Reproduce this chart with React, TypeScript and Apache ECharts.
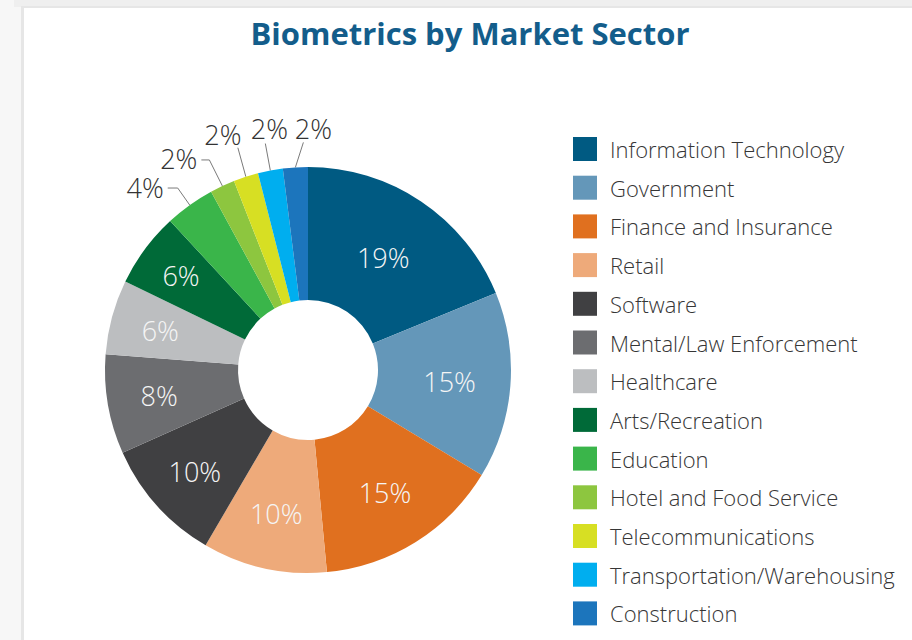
import { useEffect, useRef } from 'react';
import * as echarts from 'echarts';

// Market sectors and their share of biometrics use (percent)
const sectors = [
  'Information Technology',
  'Government',
  'Finance and Insurance',
  'Retail',
  'Software',
  'Mental/Law Enforcement',
  'Healthcare',
  'Arts/Recreation',
  'Education',
  'Hotel and Food Service',
  'Telecommunications',
  'Transportation/Warehousing',
  'Construction',
];
const shares = [19, 15, 15, 10, 10, 8, 6, 6, 4, 2, 2, 2, 2];
const sectorColors = [
  '#005a82', '#6497b9', '#e0701f', '#eeaa7a', '#404042', '#6c6d70', '#bcbec0',
  '#006a38', '#3ab54a', '#8dc63f', '#d7df23', '#00aeef', '#1c75bc',
];

// Slices from this index on are too thin for an inside label; they get a callout.
const calloutFrom = 8;

// Donut geometry
const CX = 308;
const CY = 370;
const R_INNER = 70;
const R_OUTER = 203;

// Distance of each inside label from the centre
const insideLabelRadius = [135, 142, 145, 147, 152, 151, 153, 158];

type Callout = {
  bend: [number, number];
  tail: [number, number] | null;
  at: [number, number];
  align: 'left' | 'center' | 'right';
  v: 'top' | 'middle' | 'bottom';
};

// Callout line shapes for the thin slices (offsets from the slice edge)
const callouts: Callout[] = [
  { bend: [-12, -17], tail: [-10, 0], at: [-4, -1], align: 'right', v: 'middle' },
  { bend: [-13, -26], tail: [-8, 0], at: [-4, -1], align: 'right', v: 'middle' },
  { bend: [-8, -29], tail: null, at: [-15, 0], align: 'center', v: 'bottom' },
  { bend: [-5, -27], tail: null, at: [4, -2], align: 'center', v: 'bottom' },
  { bend: [8, -25], tail: null, at: [10, 0], align: 'center', v: 'bottom' },
];

const FONT = '"Open Sans", Lato, sans-serif';

export default function App() {
  const ref = useRef<HTMLDivElement>(null);

  useEffect(() => {
    if (!ref.current) return;
    const chart = echarts.init(ref.current, null, { renderer: 'svg' });

    const data = sectors.map((name, i) => {
      const outside = i >= calloutFrom;
      return {
        name,
        value: shares[i],
        itemStyle: { color: sectorColors[i] },
        label: outside
          ? { position: 'outside', color: '#333333' }
          : { position: 'inside', color: '#f5f5f5' },
        labelLine: { show: outside },
      };
    });

    chart.setOption({
      animation: false,
      backgroundColor: '#ffffff',
      graphic: [
        { type: 'rect', z: -10, shape: { x: 0, y: 0, width: 912, height: 640 }, style: { fill: '#f7f7f7' } },
        { type: 'rect', z: -9, shape: { x: 14, y: 0, width: 898, height: 7 }, style: { fill: '#efefef' } },
        { type: 'rect', z: -9, shape: { x: 21, y: 6, width: 891, height: 634 }, style: { fill: '#e6e6e6' } },
        { type: 'rect', z: -8, shape: { x: 24, y: 8, width: 888, height: 632 }, style: { fill: '#ffffff' } },
        {
          type: 'text',
          x: 470,
          y: 33,
          style: {
            text: 'Biometrics by Market Sector',
            fill: '#135d8b',
            fontSize: 31,
            fontWeight: 'bold',
            fontFamily: '"Open Sans", "Liberation Sans", sans-serif',
            align: 'center',
            verticalAlign: 'middle',
          },
        },
      ],
      legend: {
        orient: 'vertical',
        left: 568,
        top: 132,
        icon: 'rect',
        itemWidth: 24,
        itemHeight: 24,
        itemGap: 14.7,
        selectedMode: false,
        data: sectors,
        textStyle: {
          fontSize: 22,
          color: '#363636',
          fontFamily: FONT,
          fontWeight: 300,
          padding: [0, 0, 0, 8],
        },
      },
      series: [
        {
          type: 'pie',
          center: [CX, CY],
          radius: [R_INNER, R_OUTER],
          startAngle: 90,
          clockwise: true,
          avoidLabelOverlap: false,
          emphasis: { disabled: true },
          label: {
            formatter: '{c}%',
            fontSize: 27,
            fontFamily: FONT,
            fontWeight: 300,
          },
          labelLine: {
            length: 20,
            length2: 8,
            lineStyle: { color: '#7a7a7a', width: 1 },
          },
          labelLayout: (params: any) => {
            const i = params.dataIndex;
            if (i < calloutFrom) {
              const r = params.labelRect;
              const dx = r.x + r.width / 2 - CX;
              const dy = r.y + r.height / 2 - CY;
              const len = Math.sqrt(dx * dx + dy * dy) || 1;
              const rad = insideLabelRadius[i];
              return {
                x: CX + (dx / len) * rad,
                y: CY + (dy / len) * rad,
                align: 'center',
                verticalAlign: 'middle',
              };
            }
            const pts = params.labelLinePoints;
            if (!pts) return {};
            const p0 = pts[0];
            const c = callouts[i - calloutFrom];
            const p1 = [p0[0] + c.bend[0], p0[1] + c.bend[1]];
            const p2 = c.tail ? [p1[0] + c.tail[0], p1[1] + c.tail[1]] : p1;
            return {
              x: p2[0] + c.at[0],
              y: p2[1] + c.at[1],
              align: c.align,
              verticalAlign: c.v,
              labelLinePoints: c.tail ? [p0, p1, p2] : [p0, p1],
            };
          },
          data,
        },
      ],
    });

    return () => chart.dispose();
  }, []);

  return (
    <div
      ref={ref}
      style={{ position: 'fixed', left: 0, top: 0, width: 912, height: 640 }}
    />
  );
}
